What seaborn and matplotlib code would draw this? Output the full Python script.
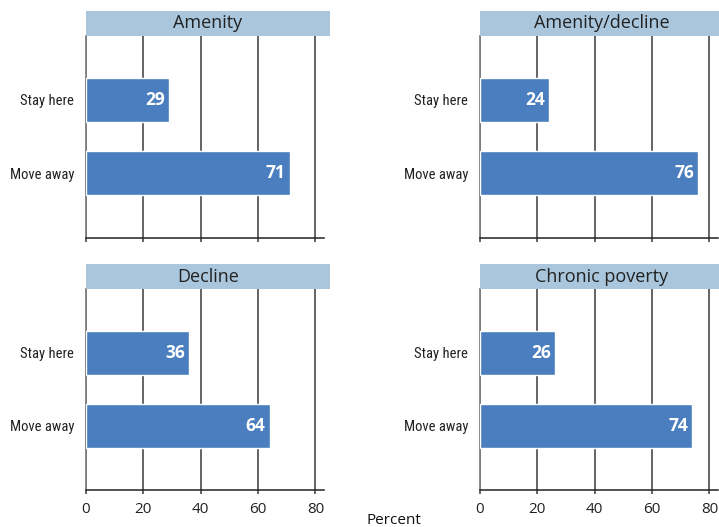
import pandas as pd
import matplotlib
matplotlib.use("Agg")
import matplotlib.pyplot as plt
import matplotlib.font_manager as fm
import seaborn as sns
from matplotlib.patches import Rectangle

# Data
categories = ["Stay here", "Move away"]
panel_titles = ["Amenity", "Amenity/decline", "Decline", "Chronic poverty"]
amenity = [29, 71]
amenity_decline = [24, 76]
decline = [36, 64]
chronic_poverty = [26, 74]
x_ticks = [0, 20, 40, 60, 80]

panel_values = [amenity, amenity_decline, decline, chronic_poverty]

BAR_COLOR = "#4a7ebf"
BAND_COLOR = "#a9c6dc"
GRID_COLOR = "#3a3a3a"

# pick a narrow font for the category labels, if any is installed
installed = {f.name for f in fm.fontManager.ttflist}
narrow_candidates = ["Liberation Sans Narrow", "DejaVu Sans Condensed", "Roboto Condensed",
                     "Open Sans Condensed", "Noto Sans Condensed", "Roboto"]
narrow = next((n for n in narrow_candidates if n in installed), "DejaVu Sans")

sns.set_theme(style="white")
plt.rcParams['font.family'] = [narrow, 'DejaVu Sans']

fig = plt.figure(figsize=(7.19, 5.27), dpi=100)

# axes positions in figure fraction: left, bottom, width, height
positions = [
    (86 / 719, 1 - 238 / 527, 238 / 719, 202 / 527),
    (480 / 719, 1 - 238 / 527, 238 / 719, 202 / 527),
    (86 / 719, 1 - 490 / 527, 238 / 719, 201 / 527),
    (480 / 719, 1 - 490 / 527, 238 / 719, 201 / 527),
]

for idx, (title, vals, pos) in enumerate(zip(panel_titles, panel_values, positions)):
    ax = fig.add_axes(pos)
    df = pd.DataFrame({"Response": categories, "Percent": vals})
    sns.barplot(data=df, x="Percent", y="Response", orient="h", color=BAR_COLOR,
                width=0.6, saturation=1, ax=ax, zorder=3)

    ax.set_xlim(0, 83)
    ax.set_ylim(1.88, -0.87)
    ax.set_xticks(x_ticks)
    ax.xaxis.grid(True, color=GRID_COLOR, linewidth=1.1, zorder=0)
    ax.yaxis.grid(False)
    ax.set_xlabel("")
    ax.set_ylabel("")

    for s in ["top", "right"]:
        ax.spines[s].set_visible(False)
    ax.spines["left"].set_color("#808080")
    ax.spines["left"].set_linewidth(1.3)
    ax.spines["bottom"].set_color("#222222")
    ax.spines["bottom"].set_linewidth(1.1)

    ax.tick_params(axis="x", direction="out", length=3, width=1.1, color=GRID_COLOR,
                   labelsize=11, pad=5.5, bottom=True)
    ax.tick_params(axis="y", length=0, labelsize=10.5, pad=8.5)
    for lbl in ax.get_xticklabels():
        lbl.set_family(['Open Sans', 'DejaVu Sans'])
        lbl.set_color("#222222")
    for lbl in ax.get_yticklabels():
        lbl.set_color("#222222")
    if idx < 2:
        ax.tick_params(axis="x", labelbottom=False)

    # value labels inside bars
    for i, v in enumerate(vals):
        ax.text(v - 1.4, i, str(v), ha="right", va="center", color="white",
                fontsize=12.5, fontweight="bold", family=['Open Sans', 'DejaVu Sans'],
                zorder=4)

    # title band
    band_h = 25 / (pos[3] * 527)
    band_w = 244 / 238
    ax.add_patch(Rectangle((0, 1), band_w, band_h, transform=ax.transAxes,
                           facecolor=BAND_COLOR, edgecolor="none", clip_on=False, zorder=5))
    ax.text(band_w / 2, 1 + band_h / 2, title, transform=ax.transAxes, ha="center",
            va="center", fontsize=13, color="#222222", family=['Open Sans', 'DejaVu Sans'],
            zorder=6)

fig.text(394 / 719, 1 - 521 / 527, "Percent", ha="center", va="center", fontsize=11,
         color="#111111", family=['Open Sans', 'DejaVu Sans'])

fig.savefig("out.png", dpi=100)
